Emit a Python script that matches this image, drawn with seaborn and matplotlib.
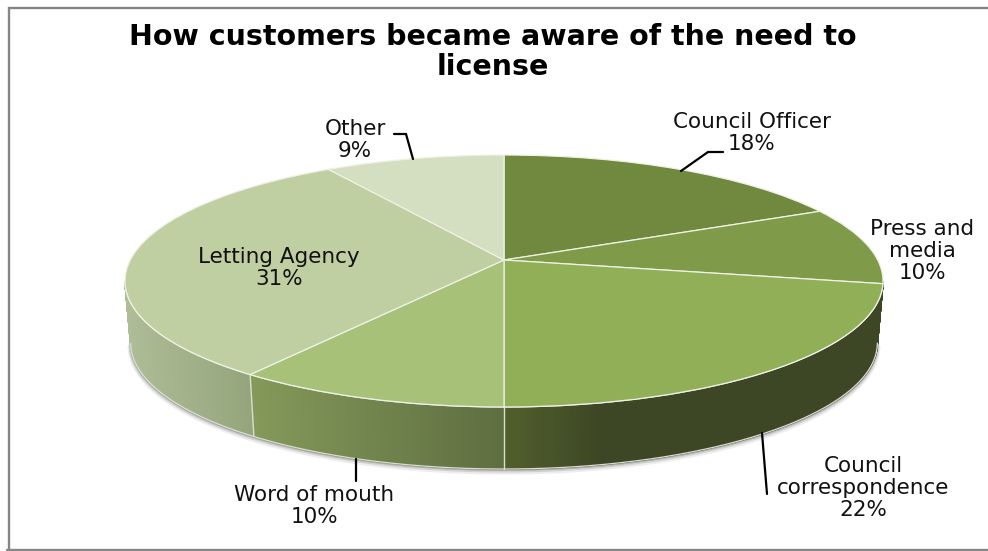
import numpy as np
import matplotlib
matplotlib.use("Agg")
import matplotlib.pyplot as plt
from matplotlib.transforms import Transform
import seaborn as sns

W, H = 988, 551

categories = ["Council Officer", "Press and\nmedia", "Council\ncorrespondence",
              "Word of mouth", "Letting Agency", "Other"]
shares = [18, 10, 22, 10, 31, 9]
top_colors = ["#71893F", "#7F9B49", "#91AF56", "#A7C178", "#BFCFA1", "#D4DEC1"]
# Side-wall shading, left to right as seen on screen
wall_colors = {
    1: ["#3D4725", "#3D4725"],
    2: ["#525F2C", "#3D4725", "#3D4725", "#3D4725", "#3D4725"],
    3: ["#84995A", "#5E6E40"],
    4: ["#AEBC97", "#94A57B"],
}
title_text = "How customers became aware of the need to\nlicense"

sns.set_theme(style="white")
plt.rcParams["font.family"] = "DejaVu Sans"

# Tilted disc: hub position, radii and depth, in pixels
hub_x, hub_y = 504, 260
back, front = 105, 147
half_width = 379
depth = 62
bottom_scale = 0.985


class TiltedDisc(Transform):
    """Projects the unit circle of the pie onto the screen with perspective."""
    input_dims = 2
    output_dims = 2

    def __init__(self):
        super().__init__()
        self.k = (front - back) / (front + back)
        self.a = back * (1 + self.k)
        self.b = half_width * np.sqrt(1 - self.k ** 2)

    def transform_non_affine(self, values):
        values = np.asarray(values, float)
        w = 1 + self.k * values[:, 1]
        return np.column_stack([hub_x + self.b * values[:, 0] / w,
                                hub_y - self.a * values[:, 1] / w])


disc = TiltedDisc()

fig = plt.figure(figsize=(W / 100, H / 100), dpi=100, facecolor="white")
ax = fig.add_axes([0, 0, 1, 1])

wedges, _ = ax.pie(shares, colors=top_colors, startangle=90, counterclock=False,
                   radius=1.0, wedgeprops=dict(edgecolor="#EEF2E6", linewidth=0.9))
ax.set_aspect("auto")
ax.set_xlim(0, W)
ax.set_ylim(H, 0)
for w in wedges:
    w.set_transform(disc + ax.transData)
    w.set_zorder(3)

edges = np.cumsum([0] + shares) / sum(shares) * 360.0

# The wall is visible between the two points where the rim turns back
turn = np.degrees(np.arccos(-disc.k))
first_visible, last_visible = turn, 360.0 - turn


def rim(t):
    r = np.radians(np.atleast_1d(t))
    p = disc.transform_non_affine(np.column_stack([np.sin(r), np.cos(r)]))
    return p[:, 0], p[:, 1]


def lower_rim(t):
    x, y = rim(t)
    return hub_x + (x - hub_x) * bottom_scale, y + depth


# Soft shadow under the front rim
tt = np.linspace(first_visible, last_visible, 400)
sx, sy = lower_rim(tt)
for off, lw, al in [(2.5, 4.5, 0.10), (1.5, 3, 0.18), (0.8, 1.6, 0.30)]:
    ax.plot(sx, sy + off, color="#555555", lw=lw, alpha=al, zorder=1,
            solid_capstyle="butt")

# Front wall, one thin strip per step, shaded across the slice
for i, shades in wall_colors.items():
    a0, a1 = max(edges[i], first_visible), min(edges[i + 1], last_visible)
    steps = np.linspace(a0, a1, int((a1 - a0) * 4) + 2)
    ramp = sns.blend_palette(shades, n_colors=len(steps))
    xs = rim(steps)[0]
    xmin, xmax = xs.min(), xs.max()
    for k in range(len(steps) - 1):
        pos = (0.5 * (xs[k] + xs[k + 1]) - xmin) / max(xmax - xmin, 1e-6)
        col = ramp[int(pos * (len(ramp) - 1))]
        t2 = steps[k:k + 2]
        x_up, y_up = rim(t2)
        x_lo, y_lo = lower_rim(t2)
        ax.fill(np.r_[x_up, x_lo[::-1]], np.r_[y_up, y_lo[::-1]], color=col, lw=1.0, zorder=2)

# Pale seams on the wall
for a in edges:
    if first_visible + 2 < a < last_visible:
        x_up, y_up = rim(a)
        x_lo, y_lo = lower_rim(a)
        ax.plot([x_up[0], x_lo[0]], [y_up[0], y_lo[0]], color="#D9DDCF", lw=1.0, zorder=2.5)
ax.plot(sx, sy, color="#DADDD2", lw=0.9, zorder=2.5)
ux, uy = rim(tt)
ax.plot(ux, uy, color="#EEF2E6", lw=0.9, zorder=2.6)

# Labels
label_style = dict(ha="center", va="center", color="#111111", fontsize=15.5, linespacing=1.12)
label_pos = [(752, 133), (922, 251), (863, 488), (314, 506), (279, 268), (355, 140)]
for name, share, (lx, ly) in zip(categories, shares, label_pos):
    ax.text(lx, ly, f"{name}\n{share}%", zorder=5, **label_style)

ax.text(493, 52, title_text, ha="center", va="center", fontsize=20.5,
        fontweight="bold", color="black", linespacing=1.05, zorder=5)

# Leader lines
leaders = [
    [(681, 171), (708, 152), (723, 152)],
    [(356, 459), (356, 481)],
    [(762, 433), (767, 494)],
    [(394, 134), (406, 134), (413, 159)],
]
for pts in leaders:
    p = np.array(pts, float)
    ax.plot(p[:, 0], p[:, 1], color="black", lw=1.6, solid_joinstyle="miter", zorder=5)

# Chart frame, open on the right
ax.plot([8.5, 8.5, W], [H, 7.5, 7.5], color="#858585", lw=1.7, solid_joinstyle="miter", zorder=6)
ax.plot([7, W], [550, 550], color="#858585", lw=1.7, zorder=6)

fig.savefig("out.png", dpi=100, facecolor="white")
